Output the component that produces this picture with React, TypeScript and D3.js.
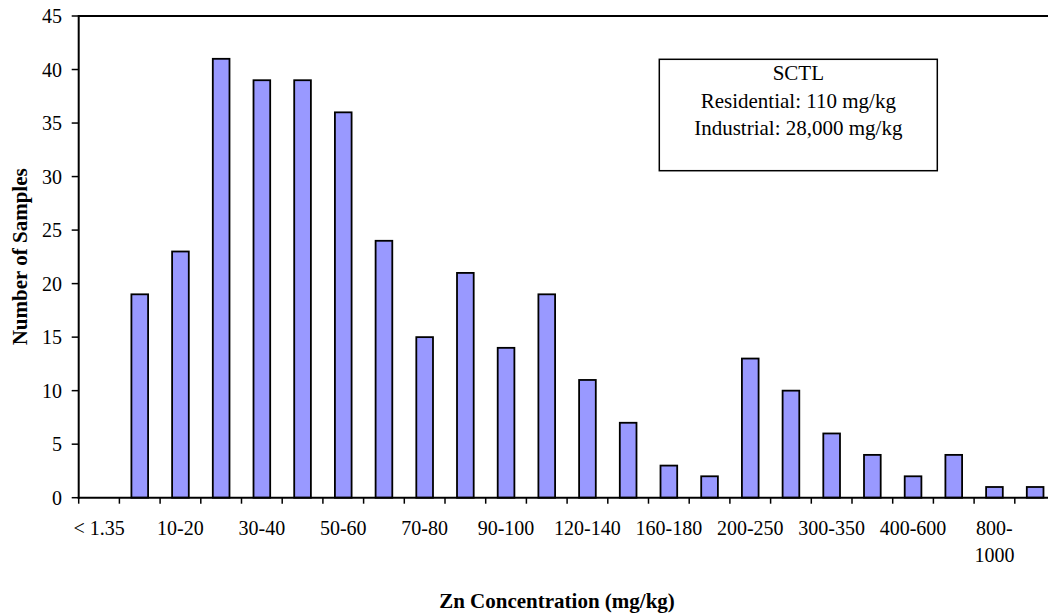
import React, { useEffect, useRef } from "react";
import * as d3 from "d3";

const categories = [
  "< 1.35", "1.35-10", "10-20", "20-30", "30-40", "40-50", "50-60", "60-70",
  "70-80", "80-90", "90-100", "100-120", "120-140", "140-160", "160-180", "180-200",
  "200-250", "250-300", "300-350", "350-400", "400-600", "600-800", "800-1000", "> 1000",
];
const counts = [0, 19, 23, 41, 39, 39, 36, 24, 15, 21, 14, 19, 11, 7, 3, 2, 13, 10, 6, 4, 2, 4, 1, 1];
const yTicks = [0, 5, 10, 15, 20, 25, 30, 35, 40, 45];
const boxLines = ["SCTL", "Residential: 110 mg/kg", "Industrial: 28,000 mg/kg"];
const xTitle = "Zn Concentration (mg/kg)";
const yTitle = "Number of Samples";

const W = 1048;
const H = 613;
const FONT = "'Liberation Serif', 'Times New Roman', serif";

export default function App() {
  const ref = useRef<SVGSVGElement>(null);

  useEffect(() => {
    const svg = d3.select(ref.current);
    svg.selectAll("*").remove();

    const left = 78.7;
    const top = 16;
    const bottom = 497.7;
    const right = left + categories.length * 40.7;

    const x = d3.scaleBand<string>().domain(categories).range([left, right]).padding(0);
    const y = d3.scaleLinear().domain([0, 45]).range([bottom, top]);

    // top border
    svg.append("line")
      .attr("x1", left).attr("x2", right).attr("y1", top).attr("y2", top)
      .attr("stroke", "#000").attr("stroke-width", 2);

    // bars
    const bw = x.bandwidth() * 0.41;
    svg.append("g")
      .selectAll("rect")
      .data(categories.map((c, i) => ({ c, v: counts[i] })).filter((d) => d.v > 0))
      .join("rect")
      .attr("x", (d) => (x(d.c) as number) + x.bandwidth() / 2 - bw / 2)
      .attr("width", bw)
      .attr("y", (d) => y(d.v))
      .attr("height", (d) => bottom - y(d.v))
      .attr("fill", "#9999FF")
      .attr("stroke", "#000")
      .attr("stroke-width", 1.8);

    // y axis
    const ga = svg.append("g");
    ga.append("line")
      .attr("x1", left).attr("x2", left).attr("y1", top - 1).attr("y2", bottom + 1)
      .attr("stroke", "#000").attr("stroke-width", 2);
    ga.selectAll("line.t")
      .data(yTicks)
      .join("line")
      .attr("class", "t")
      .attr("x1", left - 7).attr("x2", left)
      .attr("y1", (d) => y(d)).attr("y2", (d) => y(d))
      .attr("stroke", "#000").attr("stroke-width", 1.5);
    ga.selectAll("text")
      .data(yTicks)
      .join("text")
      .attr("x", 62)
      .attr("y", (d) => y(d))
      .attr("dy", "0.35em")
      .attr("text-anchor", "end")
      .attr("font-family", FONT)
      .attr("font-size", 20)
      .text((d) => String(d));

    // x axis
    const gx = svg.append("g");
    gx.append("line")
      .attr("x1", left - 1).attr("x2", right).attr("y1", bottom).attr("y2", bottom)
      .attr("stroke", "#000").attr("stroke-width", 2);
    const bounds = d3.range(categories.length + 1).map((i) => left + i * x.step());
    gx.selectAll("line.t")
      .data(bounds)
      .join("line")
      .attr("class", "t")
      .attr("x1", (d) => d).attr("x2", (d) => d)
      .attr("y1", bottom).attr("y2", bottom + 6)
      .attr("stroke", "#000").attr("stroke-width", 1.5);
    const labels = gx.selectAll("text")
      .data(categories.filter((_, i) => i % 2 === 0))
      .join("text")
      .attr("x", (d) => (x(d) as number) + x.bandwidth() / 2)
      .attr("y", 535)
      .attr("text-anchor", "middle")
      .attr("font-family", FONT)
      .attr("font-size", 20);
    labels.each(function (d) {
      const t = d3.select(this);
      if (d === "800-1000") {
        t.append("tspan").attr("x", (x(d) as number) + x.bandwidth() / 2).attr("dy", 0).text("800-");
        t.append("tspan").attr("x", (x(d) as number) + x.bandwidth() / 2).attr("dy", 27).text("1000");
      } else {
        t.text(d);
      }
    });

    // axis titles
    svg.append("text")
      .attr("x", 557).attr("y", 608)
      .attr("text-anchor", "middle")
      .attr("font-family", FONT).attr("font-weight", "bold").attr("font-size", 21)
      .text(xTitle);
    svg.append("text")
      .attr("transform", `translate(27,${(top + bottom) / 2}) rotate(-90)`)
      .attr("text-anchor", "middle")
      .attr("font-family", FONT).attr("font-weight", "bold").attr("font-size", 21)
      .text(yTitle);

    // annotation box
    const bx = 659.3, by = 59.3, bwid = 278, bh = 111.4;
    svg.append("rect")
      .attr("x", bx).attr("y", by).attr("width", bwid).attr("height", bh)
      .attr("fill", "#fff").attr("stroke", "#000").attr("stroke-width", 1.5);
    svg.append("g")
      .selectAll("text")
      .data(boxLines)
      .join("text")
      .attr("x", bx + bwid / 2)
      .attr("y", (_, i) => 80 + i * 27.5)
      .attr("text-anchor", "middle")
      .attr("font-family", FONT)
      .attr("font-size", 21)
      .text((d) => d);
  }, []);

  return (
    <svg
      ref={ref}
      width={W}
      height={H}
      style={{ position: "absolute", left: 0, top: 0, background: "#fff" }}
    />
  );
}
